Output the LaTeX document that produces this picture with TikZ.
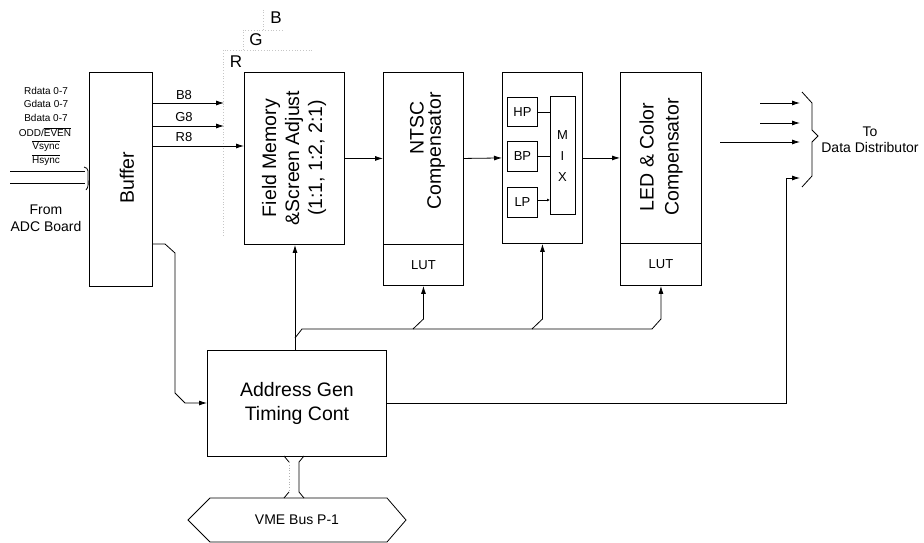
\documentclass[tikz,border=0pt]{standalone}
\usepackage{fontspec}
\setmainfont{Liberation Sans}
\usetikzlibrary{arrows.meta,calc}
\begin{document}
\begin{tikzpicture}[x=1pt,y=-1pt,
  box/.style={draw,line width=0.9pt,inner sep=0pt,anchor=north west},
  ln/.style={line width=0.8pt},
  arr/.style={line width=0.8pt,-{Latex[length=8pt,width=5pt]}},
  big/.style={font=\fontsize{19.5}{23}\selectfont,align=center,inner sep=0pt},
  mid/.style={font=\fontsize{13}{15}\selectfont,inner sep=0pt},
  sml/.style={font=\fontsize{10}{11}\selectfont,inner sep=0pt},
  faint/.style={gray!45,dotted,line width=0.8pt}]
\useasboundingbox (0,0) rectangle (924,543);
\fill[white] (0,0) rectangle (924,543);

% stacked plane outlines
\draw[faint] (223,236) -- (223,50) -- (313,50);
\draw[faint] (243,50) -- (243,30) -- (283,30);
\draw[faint] (263,30) -- (263,10);
\node[font=\fontsize{17}{18}\selectfont,inner sep=0pt] (lR) at (236,62) {R};
\node[font=\fontsize{17}{18}\selectfont,inner sep=0pt] (lG) at (256,40) {G};
\node[font=\fontsize{17}{18}\selectfont,inner sep=0pt] (lB) at (276,18) {B};

% boxes
\node[box,minimum width=63pt,minimum height=214pt] (buf) at (89,72) {};
\node[big,rotate=90] (buft) at (127,178) {Buffer};
\node[box,minimum width=100pt,minimum height=172pt] (fm) at (244,72) {};
\node[big,rotate=90] (fmt) at (294,158) {Field Memory\\\&Screen Adjust\\(1:1, 1:2, 2:1)};
\node[box,minimum width=80pt,minimum height=172pt] (ntsc) at (383,72) {};
\node[box,minimum width=80pt,minimum height=41pt,mid] (ntsclut) at (383,244) {LUT};
\node[big,rotate=90] (ntsct1) at (417,128) {NTSC};
\node[big,rotate=90] (ntsct2) at (436,151) {Compensator};
\node[box,minimum width=80pt,minimum height=171pt] (filt) at (502,72) {};
\node[box,minimum width=30pt,minimum height=29pt,mid] (hp) at (507,97) {HP};
\node[box,minimum width=30pt,minimum height=30pt,mid] (bp) at (507,141) {BP};
\node[box,minimum width=30pt,minimum height=30pt,mid] (lp) at (507,187) {LP};
\node[box,minimum width=25pt,minimum height=118pt] (mix) at (550,96) {};
\node[mid] (mixm) at (562.5,135) {M};
\node[mid] (mixi) at (562.5,156) {I};
\node[mid] (mixx) at (562.5,177) {X};
\node[box,minimum width=81pt,minimum height=171pt] (led) at (620,72) {};
\node[box,minimum width=81pt,minimum height=42pt,mid] (ledlut) at (620,243) {LUT};
\node[big,rotate=90,font=\fontsize{19.5}{25}\selectfont] (ledt) at (661,157) {LED \& Color\\Compensator};
\node[box,minimum width=179pt,minimum height=106pt,big,align=center,font=\fontsize{19.5}{24}\selectfont] (addr) at (207,350) {Address Gen\\Timing Cont};

% VME bus
\draw[ln] (188,520) -- (210,498) -- (387,498) -- (406,520) -- (387,542) -- (210,542) -- cycle;
\node[mid,font=\fontsize{14}{16}\selectfont] (vme) at (297,520) {VME Bus P-1};
\draw[ln,gray!60,dotted] (289,462) -- (289,492);
\draw[ln] (284,456) -- (289,462) (289,492) -- (284,498);
\draw[ln] (304,456) -- (299,462) -- (299,492) -- (304,498);

% left inputs
\node[sml] (i1) at (46,91) {Rdata 0-7};
\node[sml] (i2) at (46,104) {Gdata 0-7};
\node[sml] (i3) at (46,118) {Bdata 0-7};
\node[sml] (i4) at (45,132) {ODD/$\overline{\mbox{EVEN}}$};
\node[sml] (i5) at (46,146) {$\overline{\mbox{Vsync}}$};
\node[sml] (i6) at (46,160) {$\overline{\mbox{Hsync}}$};
\draw[ln] (10,171) -- (85,171);
\draw[ln] (10,183) -- (85,183);
\draw[ln] (84,167) .. controls (89,168) and (88,172) .. (88,177) .. controls (88,183) and (89,187) .. (86,190);
\node[font=\fontsize{14}{17}\selectfont,align=center,inner sep=0pt] (adc) at (46,218) {From\\ADC Board};

% B8 G8 R8
\coordinate (b8) at (224,103);
\coordinate (g8) at (224,126);
\coordinate (r8) at (244,146);
\draw[arr] (buf.east |- b8) -- (b8);
\draw[arr] (buf.east |- g8) -- (g8);
\draw[arr] (buf.east |- r8) -- (fm.west |- r8);
\node[mid] (lb8) at (184,95) {B8};
\node[mid] (lg8) at (184,117) {G8};
\node[mid] (lr8) at (184,137) {R8};

% data path
\draw[arr] (fm.east) -- (ntsc.west);
\draw[arr] (ntsc.east) -- (filt.west);
\draw[arr] (filt.east) -- (led.west);
\draw[ln] (hp.east) -- (mix.west |- hp.east);
\draw[ln] (bp.east) -- (mix.west |- bp.east);
\draw[line width=0.8pt,-{Latex[length=3pt,width=3pt]}] (lp.east |- 0,200) -- (mix.west |- 0,200);

% buffer to address gen
\draw[arr] (buf.east |- 0,244) -- (165,244) -- (175,253) -- (175,393) -- (185,403) -- (addr.west |- 0,403);

% address gen to field memory and LUTs
\coordinate (up) at (295,0);
\draw[arr] (addr.north -| up) -- (fm.south -| up);
\draw[ln] (295,338) -- (302,329) -- (652,329);
\draw[arr] (413,329) -- (ntsclut.south |- 0,319) -- (ntsclut.south);
\draw[arr] (532,329) -- (filt.south |- 0,319) -- (filt.south);
\draw[arr] (652,329) -- (ledlut.south |- 0,319) -- (ledlut.south);

% outputs
\draw[arr] (addr.east |- 0,403) -- (786,403) -- (786,178) -- (800,178);
\draw[arr] (760,103) -- (800,103);
\draw[arr] (760,123) -- (800,123);
\draw[arr] (720,142) -- (800,142);
\draw[ln] (802,92) -- (812,103) -- (812,130) -- (818,136) -- (812,142) -- (812,176) -- (802,187);
\node[font=\fontsize{14}{16}\selectfont,align=center,inner sep=0pt] (dd) at (870,140) {To\\Data Distributor};
\end{tikzpicture}
\end{document}
